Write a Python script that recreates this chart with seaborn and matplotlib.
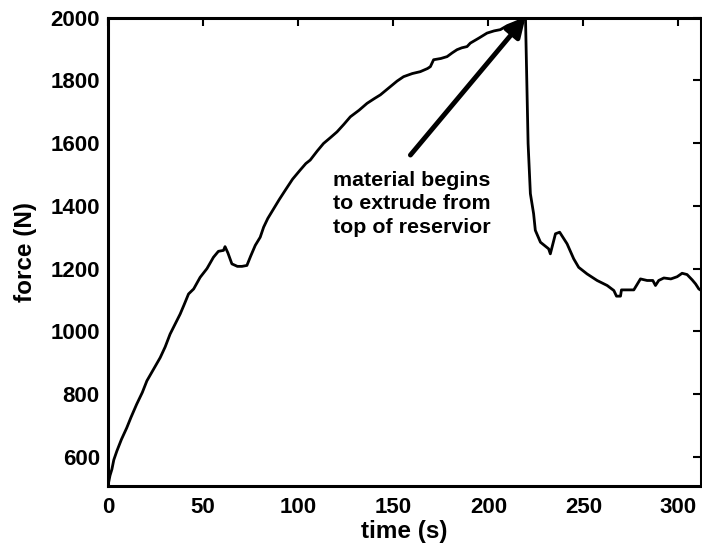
import matplotlib
matplotlib.use("Agg")
import matplotlib.pyplot as plt
import seaborn as sns
import pandas as pd

# Style: plain white, MATLAB-like look, black text
sns.set_style("white", {"text.color": "black", "axes.labelcolor": "black",
                        "xtick.color": "black", "ytick.color": "black",
                        "axes.edgecolor": "black"})
plt.rcParams['font.family'] = ['Liberation Sans', 'DejaVu Sans']
plt.rcParams['font.weight'] = 'bold'

# Data
time_s = [0, 1, 2, 3, 4.6, 7, 9.8, 12, 15, 18, 20.4, 24, 27.4, 30, 32.6, 35, 37.9, 40,
          42.3, 45, 48.4, 52, 55.4, 58, 60.7, 61.5, 63, 65.1, 68, 70.4, 73, 75, 77.4,
          80, 81.8, 84, 87, 90, 93.2, 97, 101, 104, 106.3, 110, 113.3, 117, 120.4,
          124, 127.4, 132, 136.2, 140, 143.2, 146, 148.4, 152, 155.4, 160, 164.2,
          168, 169.5, 171.2, 175, 178.3, 181, 183.5, 186, 188.8, 190.5, 195, 199.3,
          203, 206.3, 210, 213.3, 216, 218.6, 219.5, 220.9, 222.1, 223.8, 224.7,
          227.4, 231.7, 232.6, 235.3, 237.5, 241.4, 244.9, 247.5, 251.9, 257.2,
          262.5, 266, 267.4, 269.5, 270, 276.5, 280, 283.5, 286.5, 287.9, 289.6,
          292.3, 296, 299.3, 301.9, 304.5, 307.2, 309, 310.7, 312]
force_N = [510, 540, 560, 590, 618, 655, 692, 725, 767, 805, 842, 880, 916, 950, 991,
           1020, 1055, 1085, 1119, 1135, 1172, 1200, 1236, 1255, 1258, 1270, 1250,
           1215, 1207, 1207, 1210, 1240, 1274, 1300, 1332, 1360, 1390, 1420, 1450,
           1485, 1514, 1535, 1546, 1575, 1599, 1618, 1636, 1660, 1684, 1705, 1727,
           1742, 1754, 1768, 1780, 1798, 1812, 1822, 1828, 1838, 1844, 1866, 1870,
           1876, 1888, 1898, 1904, 1908, 1919, 1935, 1951, 1958, 1962, 1975, 1983,
           1990, 1996, 2010, 1599, 1439, 1375, 1322, 1284, 1263, 1247, 1311, 1316,
           1279, 1231, 1204, 1183, 1162, 1146, 1130, 1112, 1112, 1132, 1132, 1167,
           1162, 1162, 1146, 1162, 1170, 1167, 1174, 1185, 1181, 1164, 1151, 1135,
           1130]

x_ticks = [0, 50, 100, 150, 200, 250, 300]
y_ticks = [600, 800, 1000, 1200, 1400, 1600, 1800, 2000]
note_text = "material begins\nto extrude from\ntop of reservior"

df = pd.DataFrame({'time': time_s, 'force': force_N})

fig = plt.figure(figsize=(7.02, 5.54), dpi=100)
ax = fig.add_axes([0.154, 0.123, 0.845, 0.845])

sns.lineplot(data=df, x='time', y='force', color='black', linewidth=2,
             estimator=None, sort=False, ax=ax)

ax.set_xlim(0, 312)
ax.set_ylim(507, 2000)
ax.set_xticks(x_ticks)
ax.set_yticks(y_ticks)
ax.set_xlabel('time (s)', fontsize=17.5, fontweight='bold')
ax.set_ylabel('force (N)', fontsize=17.5, fontweight='bold')
ax.xaxis.set_label_coords(0.5, -0.074)
ax.yaxis.set_label_coords(-0.12, 0.5)

# MATLAB-ish box with inward ticks on all sides
for s in ax.spines.values():
    s.set_linewidth(2.2)
    s.set_color('black')
ax.tick_params(direction='in', length=6, width=1.5, top=True, right=True,
               labelsize=16)
ax.tick_params(axis='x', pad=8)
ax.tick_params(axis='y', pad=6)
for lab in ax.get_xticklabels() + ax.get_yticklabels():
    lab.set_fontweight('bold')

# Annotation arrow and note
ax.annotate('', xy=(219.5, 2000), xytext=(159, 1562),
            arrowprops=dict(arrowstyle='-|>', lw=3.5, color='black',
                            mutation_scale=28, shrinkA=0, shrinkB=0))
ax.text(118.4, 1512, note_text, ha='left', va='top', fontsize=15.4,
        fontweight='bold', linespacing=1.3)

fig.savefig('out.png', dpi=100)
